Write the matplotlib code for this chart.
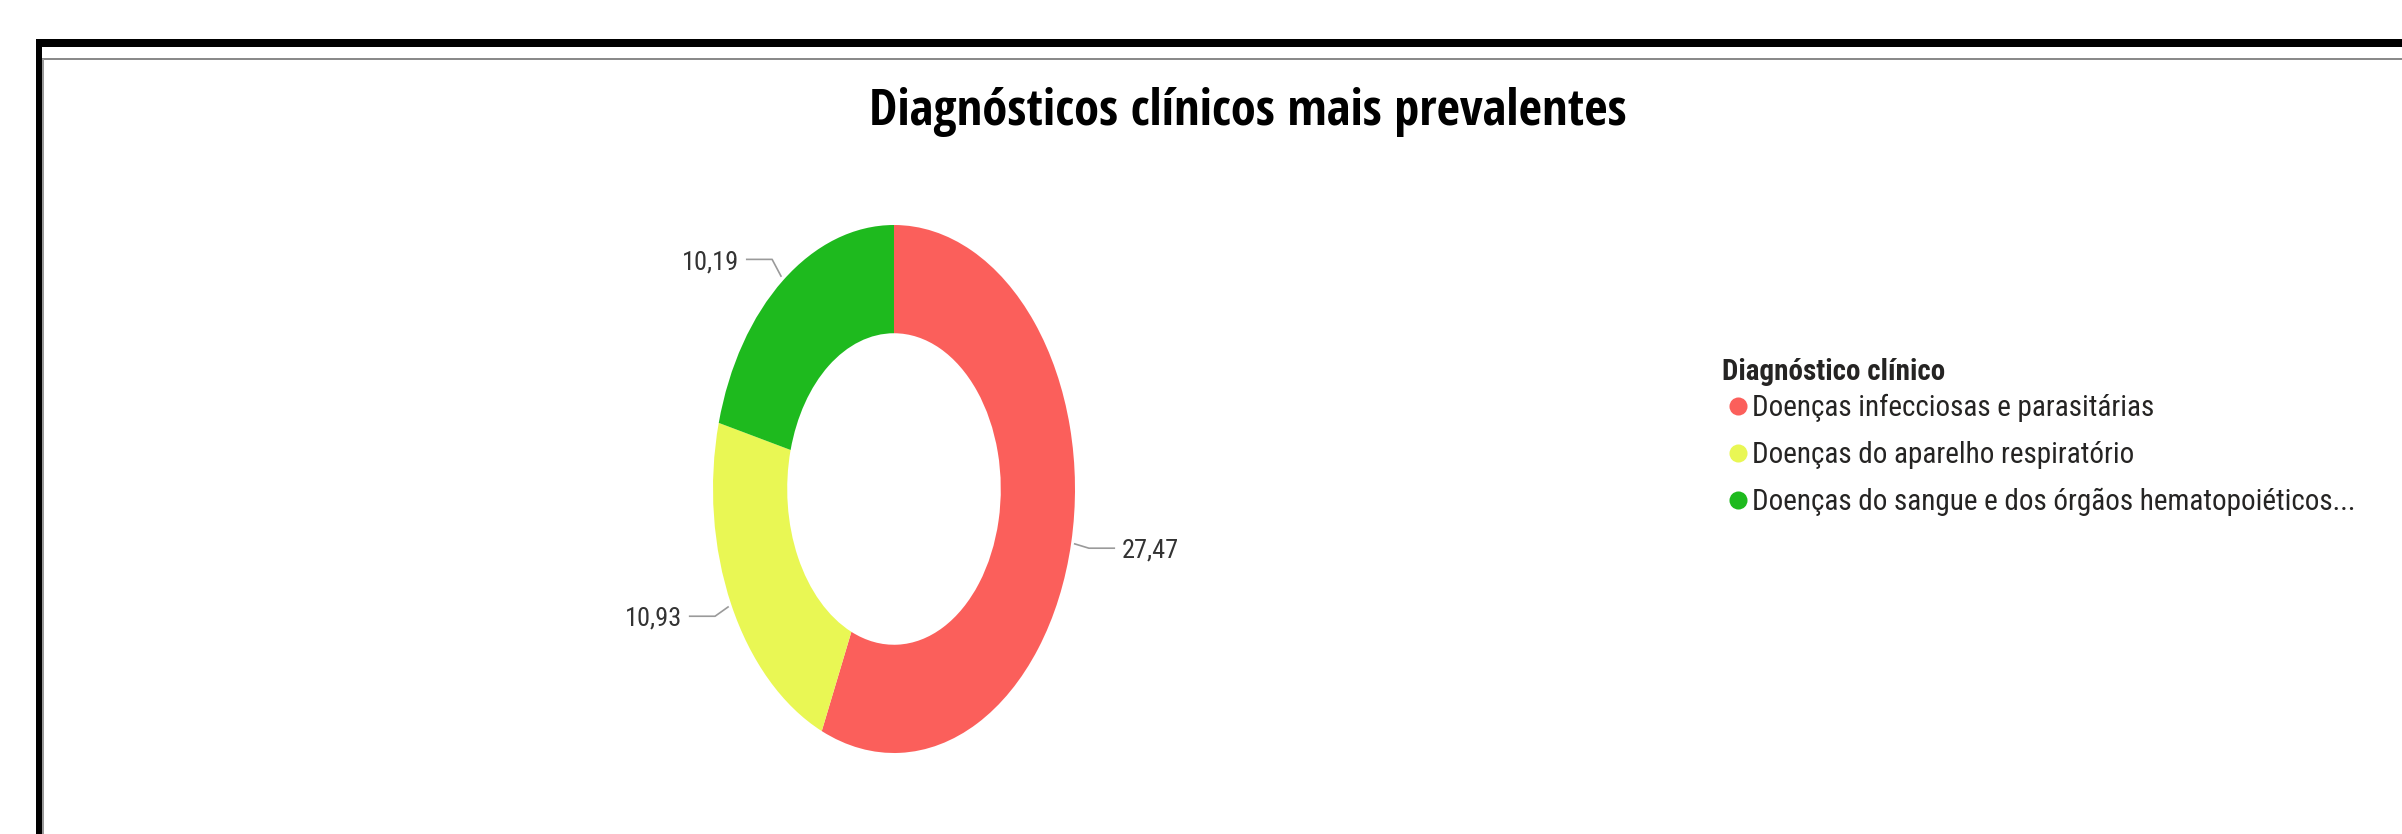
import matplotlib
matplotlib.use('Agg')
import matplotlib.pyplot as plt
from matplotlib.lines import Line2D
from matplotlib.patches import Rectangle
import numpy as np

# dados do gráfico
categorias = ['Doenças infecciosas e parasitárias',
              'Doenças do aparelho respiratório',
              'Doenças do sangue e dos órgãos hematopoiéticos...']
valores = [27.47, 10.93, 10.19]
cores = ['#FB5F5B', '#E9F754', '#1EBA1E']
titulo = 'Diagnósticos clínicos mais prevalentes'
titulo_legenda = 'Diagnóstico clínico'

W, H = 2402, 834
fig = plt.figure(figsize=(W / 100, H / 100), dpi=100)

# moldura
fig.add_artist(Rectangle((36 / W, (H - 47) / H), 1, 8 / H, transform=fig.transFigure,
                         color='black', lw=0))
fig.add_artist(Rectangle((36 / W, 0), 6 / W, (H - 39) / H, transform=fig.transFigure,
                         color='black', lw=0))
fig.add_artist(Rectangle((42 / W, (H - 60) / H), 1, 2 / H, transform=fig.transFigure,
                         color='#8a8a8a', lw=0))
fig.add_artist(Rectangle((42 / W, 0), 2 / W, (H - 59) / H, transform=fig.transFigure,
                         color='#9a9a9a', lw=0))

fonte_titulo = dict(family=['Open Sans Condensed', 'Roboto Condensed', 'DejaVu Sans'])
fonte = dict(family=['Roboto Condensed', 'DejaVu Sans'])

fig.text(1248 / W, 1 - 112 / H, titulo, ha='center', va='center',
         fontsize=36.5, fontweight='bold', **fonte_titulo)

# rosca
ax = fig.add_axes([532 / W, 15 / H, 724 / W, 660 / H])
wedges, _ = ax.pie(valores, colors=cores, startangle=90, counterclock=False,
                   wedgeprops=dict(width=0.41, linewidth=0))
ax.set_aspect('auto')
ax.set_xlim(-2, 2)
ax.set_ylim(-1.25, 1.25)
ax.axis('off')

for w, v in zip(wedges, valores):
    ang = np.deg2rad((w.theta1 + w.theta2) / 2)
    c, s = np.cos(ang), np.sin(ang)
    lado = 1 if c >= 0 else -1
    x1, y1 = 1.02 * c, 1.02 * s
    x2, y2 = 1.1 * c, 1.1 * s
    x3 = x2 + lado * 0.14
    ax.plot([x1, x2, x3], [y1, y2, y2], color='#9a9a9a', lw=1.2, clip_on=False)
    ax.text(x3 + lado * 0.04, y2 - 0.01, f'{v:.2f}'.replace('.', ','),
            ha='left' if lado > 0 else 'right', va='center',
            fontsize=19, color='#333333', **fonte)

# legenda
fig.text(1722 / W, 1 - 372 / H, titulo_legenda, ha='left', va='center',
         fontsize=21, fontweight='semibold', color='#252423', **fonte)
handles = [Line2D([], [], marker='o', ls='', markersize=13, markerfacecolor=cor,
                  markeredgewidth=0) for cor in cores]
leg = fig.legend(handles, categorias, loc='upper left',
                 bbox_to_anchor=(1700 / W, 1 - 368 / H), frameon=False,
                 handletextpad=0.1, handlelength=0.8, labelspacing=0.64,
                 prop=dict(size=21, **fonte))
for t in leg.get_texts():
    t.set_color('#252423')

fig.savefig('out.png', dpi=100, facecolor='white')
